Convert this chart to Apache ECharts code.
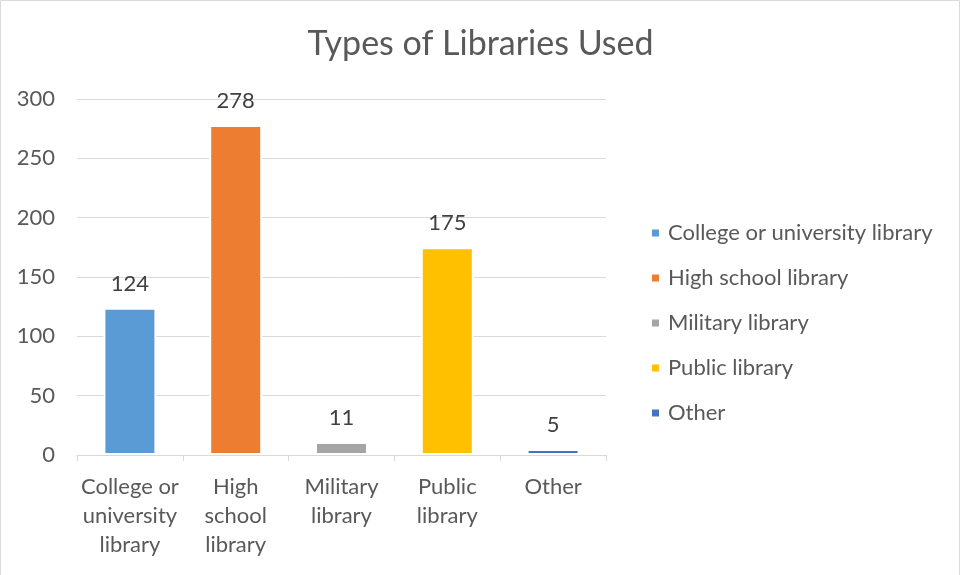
<!DOCTYPE html>
<html>
<head>
<meta charset="utf-8">
<script src="https://cdn.jsdelivr.net/npm/echarts@6/dist/echarts.min.js"></script>
<style>
html,body{margin:0;padding:0;background:#fff;}
#chart{width:961px;height:575px;}
</style>
</head>
<body>
<div id="chart"></div>
<script>
const titleText = 'Types of Libraries Used';
const categories = ['College or university library', 'High school library', 'Military library', 'Public library', 'Other'];
const tickLabels = ['College or\nuniversity\nlibrary', 'High\nschool\nlibrary', 'Military\nlibrary', 'Public\nlibrary', 'Other'];
const values = [124, 278, 11, 175, 5];
const colors = ['#5B9BD5', '#ED7D31', '#A5A5A5', '#FFC000', '#4472C4'];
const yTicks = [0, 50, 100, 150, 200, 250, 300];

const FONT = 'Lato';
const TXT = '#595959';

const series = categories.map((name, i) => ({
  name: name,
  type: 'bar',
  stack: 'all',
  barWidth: 53,
  data: categories.map((c, j) => (j === i ? values[i] : '-')),
  itemStyle: { color: colors[i], borderColor: '#ffffff', borderWidth: 2 },
  label: {
    show: true, position: 'top', distance: 13,
    color: '#404040', fontFamily: FONT, fontSize: 22
  }
}));

const chart = echarts.init(document.getElementById('chart'), null, { renderer: 'canvas' });
chart.setOption({
  animation: false,
  backgroundColor: '#ffffff',
  title: {
    text: titleText, left: 'center', top: 22,
    textStyle: { fontFamily: FONT, fontWeight: 'normal', fontSize: 34, color: TXT }
  },
  legend: {
    orient: 'vertical', left: 645, top: 217,
    icon: 'rect', itemWidth: 9, itemHeight: 9, itemGap: 23,
    textStyle: { fontFamily: FONT, fontSize: 22, color: TXT, padding: [0, 0, 0, 3] },
    data: categories
  },
  grid: { left: 77, right: 355, top: 99, bottom: 120, containLabel: false },
  xAxis: {
    type: 'category',
    data: categories,
    axisLine: { lineStyle: { color: '#d9d9d9', width: 1 } },
    axisTick: { show: true, length: 6, lineStyle: { color: '#d9d9d9' } },
    axisLabel: {
      fontFamily: FONT, fontSize: 22, color: TXT, margin: 17, lineHeight: 29,
      interval: 0,
      formatter: (v) => tickLabels[categories.indexOf(v)]
    }
  },
  yAxis: {
    type: 'value', min: yTicks[0], max: yTicks[yTicks.length - 1], interval: 50,
    axisLine: { show: false }, axisTick: { show: false },
    splitLine: { lineStyle: { color: '#d9d9d9', width: 1 } },
    axisLabel: { fontFamily: FONT, fontSize: 22, color: TXT, margin: 22 }
  },
  graphic: [{
    type: 'rect', silent: true, z: 100,
    shape: { x: 0.5, y: 0.5, width: 959, height: 620 },
    style: { fill: 'none', stroke: '#d9d9d9', lineWidth: 1 }
  }],
  series: series
});
</script>
</body>
</html>
